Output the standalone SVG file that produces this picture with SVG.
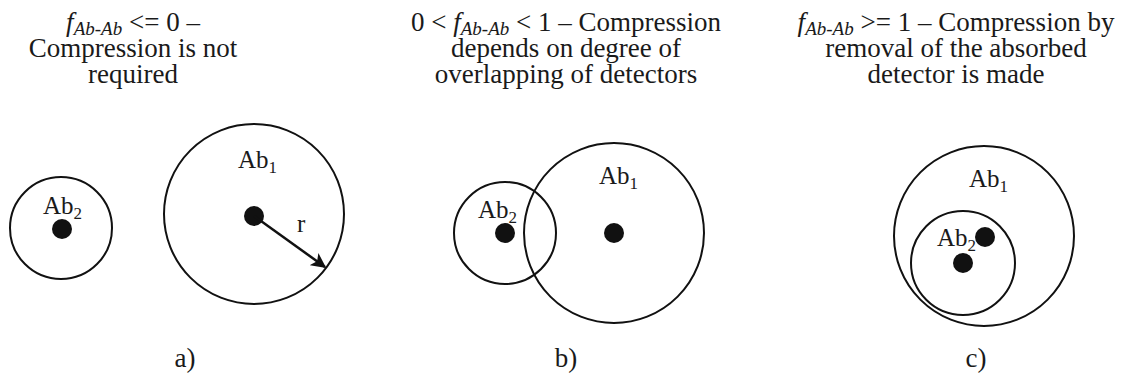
<svg xmlns="http://www.w3.org/2000/svg" width="1131" height="378" viewBox="0 0 1131 378">
<style>
.t{font-family:"Liberation Serif","Times New Roman",serif;font-size:27px;fill:#1a1a1a;text-anchor:middle}
.lab{font-family:"Liberation Serif","Times New Roman",serif;font-size:25px;fill:#1a1a1a}
.c{fill:none;stroke:#111;stroke-width:2}
.d{fill:#111}
.i{font-style:italic}
.s{font-size:19px;font-style:italic}
.sub{font-size:17px}
</style>
<defs>
<marker id="ah" viewBox="0 0 10 10" refX="9" refY="5" markerWidth="6" markerHeight="6" orient="auto" markerUnits="strokeWidth">
<path d="M0,0 L10,5 L0,10 L2.5,5 Z" fill="#111"/>
</marker>
</defs>
<rect width="1131" height="378" fill="#fff"/>

<g id="panel-a">
<text class="t" x="133" y="31"><tspan class="i">f</tspan><tspan class="s" dy="4">Ab-Ab</tspan><tspan dy="-4"> &lt;= 0 –</tspan></text>
<text class="t" x="133" y="57">Compression is not</text>
<text class="t" x="133" y="83">required</text>
<g id="a-ab2">
<circle class="c" cx="61" cy="228" r="51"/>
<circle class="d" cx="62" cy="229" r="10"/>
<text class="lab" x="43" y="214">Ab<tspan class="sub" dy="5">2</tspan></text>
</g>
<g id="a-ab1">
<circle class="c" cx="254" cy="214" r="90"/>
<circle class="d" cx="254" cy="216" r="10"/>
<text class="lab" x="238" y="168">Ab<tspan class="sub" dy="5">1</tspan></text>
<text class="lab" x="297" y="232">r</text>
</g>
<text class="t" x="185" y="367">a)</text>
</g>

<g id="panel-b">
<text class="t" x="566" y="31">0 &lt; <tspan class="i">f</tspan><tspan class="s" dy="4">Ab-Ab</tspan><tspan dy="-4"> &lt; 1 – Compression</tspan></text>
<text class="t" x="566" y="57">depends on degree of</text>
<text class="t" x="566" y="83">overlapping of detectors</text>
<g id="b-ab2">
<circle class="c" cx="505" cy="233" r="51"/>
<circle class="d" cx="505" cy="233" r="10"/>
<text class="lab" x="478" y="218">Ab<tspan class="sub" dy="5">2</tspan></text>
</g>
<g id="b-ab1">
<circle class="c" cx="614" cy="233" r="90"/>
<circle class="d" cx="614" cy="233" r="10"/>
<text class="lab" x="599" y="184">Ab<tspan class="sub" dy="5">1</tspan></text>
</g>
<text class="t" x="566" y="367">b)</text>
</g>

<g id="panel-c">
<text class="t" x="956" y="31"><tspan class="i">f</tspan><tspan class="s" dy="4">Ab-Ab</tspan><tspan dy="-4"> &gt;= 1 – Compression by</tspan></text>
<text class="t" x="956" y="57">removal of the absorbed</text>
<text class="t" x="956" y="83">detector is made</text>
<g id="c-ab1">
<circle class="c" cx="984" cy="236" r="90"/>
<text class="lab" x="969" y="187">Ab<tspan class="sub" dy="5">1</tspan></text>
</g>
<g id="c-ab2">
<circle class="c" cx="963" cy="263" r="52"/>
<text class="lab" x="937" y="246">Ab<tspan class="sub" dy="5">2</tspan></text>
<circle class="d" cx="985" cy="237" r="10"/>
<circle class="d" cx="963" cy="263" r="10"/>
</g>
<text class="t" x="976" y="367">c)</text>
</g>

<g id="connectors">
<line x1="254" y1="216" x2="325" y2="267" stroke="#111" stroke-width="2.5" marker-end="url(#ah)"/>
</g>
</svg>
